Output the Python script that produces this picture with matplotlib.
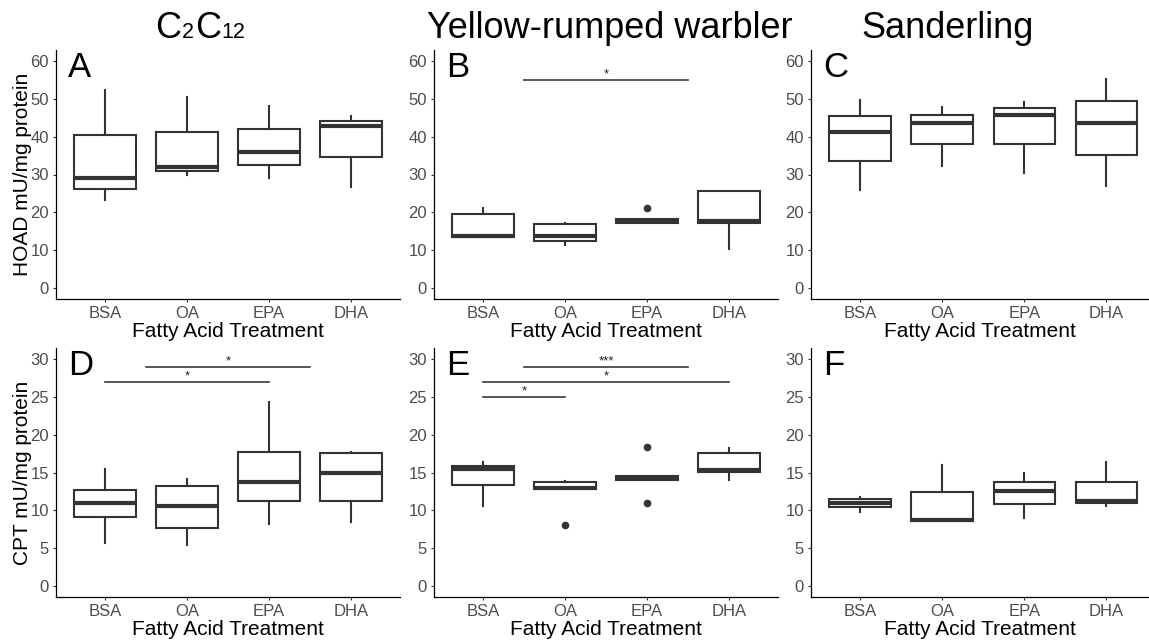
import matplotlib
matplotlib.use("Agg")
import matplotlib.pyplot as plt
from matplotlib.text import Annotation

plt.rcParams['font.family'] = ['Liberation Sans', 'DejaVu Sans']

categories = ["BSA", "OA", "EPA", "DHA"]
# first title is written as pieces: (text, is_subscript)
title1_pieces = [("C", False), ("2", True), ("C", False), ("12", True)]
col_titles = ["Yellow-rumped warbler", "Sanderling"]
row_ylabels = ["HOAD mU/mg protein", "CPT mU/mg protein"]
panel_letters = ["A", "B", "C", "D", "E", "F"]
xlabel = "Fatty Acid Treatment"
yticks_top = [0, 10, 20, 30, 40, 50, 60]
yticks_bottom = [0, 5, 10, 15, 20, 25, 30]

# box statistics per panel: whisker low, Q1, median, Q3, whisker high
A_whislo = [23.3, 29.9, 29.2, 26.6]
A_q1     = [26.1, 30.8, 32.4, 34.7]
A_med    = [29.2, 31.9, 35.9, 42.9]
A_q3     = [40.6, 41.3, 42.0, 44.1]
A_whishi = [52.3, 50.6, 48.2, 45.5]
A_fliers = [[], [], [], []]

B_whislo = [13.4, 11.4, 17.2, 10.2]
B_q1     = [13.4, 12.5, 17.2, 17.2]
B_med    = [13.8, 13.8, 17.7, 17.7]
B_q3     = [19.6, 16.8, 18.2, 25.6]
B_whishi = [21.1, 17.1, 18.2, 25.6]
B_fliers = [[], [], [21.1], []]

C_whislo = [25.9, 32.3, 30.3, 27.0]
C_q1     = [33.5, 38.0, 38.0, 35.3]
C_med    = [41.2, 43.7, 45.8, 43.7]
C_q3     = [45.5, 45.7, 47.7, 49.5]
C_whishi = [49.7, 47.9, 49.3, 55.4]
C_fliers = [[], [], [], []]

D_whislo = [5.6, 5.4, 8.2, 8.4]
D_q1     = [9.1, 7.7, 11.2, 11.2]
D_med    = [11.0, 10.6, 13.8, 14.9]
D_q3     = [12.7, 13.2, 17.7, 17.6]
D_whishi = [15.5, 14.2, 24.4, 17.7]
D_fliers = [[], [], [], []]

E_whislo = [10.6, 12.8, 14.0, 14.0]
E_q1     = [13.4, 12.8, 14.0, 15.1]
E_med    = [15.4, 13.0, 14.3, 15.3]
E_q3     = [15.8, 13.7, 14.6, 17.6]
E_whishi = [16.4, 13.9, 14.6, 18.3]
E_fliers = [[], [8.0], [18.35, 10.9], []]

F_whislo = [9.8, 8.6, 9.0, 10.6]
F_q1     = [10.4, 8.6, 10.8, 10.9]
F_med    = [11.0, 8.7, 12.6, 11.2]
F_q3     = [11.5, 12.4, 13.8, 13.8]
F_whishi = [11.8, 16.0, 14.9, 16.4]
F_fliers = [[], [], [], []]

# significance brackets: (x start, x end, y, label)
B_sig = [(1.5, 3.5, 55, "*")]
D_sig = [(1.5, 3.5, 29, "*"), (1.0, 3.0, 27, "*")]
E_sig = [(1.5, 3.5, 29, "***"), (1.0, 4.0, 27, "*"), (1.0, 2.0, 25, "*")]

panels = [
    (A_whislo, A_q1, A_med, A_q3, A_whishi, A_fliers, []),
    (B_whislo, B_q1, B_med, B_q3, B_whishi, B_fliers, B_sig),
    (C_whislo, C_q1, C_med, C_q3, C_whishi, C_fliers, []),
    (D_whislo, D_q1, D_med, D_q3, D_whishi, D_fliers, D_sig),
    (E_whislo, E_q1, E_med, E_q3, E_whishi, E_fliers, E_sig),
    (F_whislo, F_q1, F_med, F_q3, F_whishi, F_fliers, []),
]

W, H = 1149, 640
fig = plt.figure(figsize=(W / 100, H / 100), dpi=100)

col_left = [56, 434, 811]
col_right = [400, 778, 1149]
row_top = [50, 348]
row_bot = [299, 597]
col_xmax = [4.6, 4.6, 4.52]

dark = "#333333"
for i, (wl, q1, md, q3, wh, fl, sig) in enumerate(panels):
    r, c = divmod(i, 3)
    ax = fig.add_axes([col_left[c] / W, 1 - row_bot[r] / H,
                       (col_right[c] - col_left[c]) / W, (row_bot[r] - row_top[r]) / H])
    stats = []
    for k, name in enumerate(categories):
        stats.append(dict(label=name, whislo=wl[k], q1=q1[k], med=md[k],
                          q3=q3[k], whishi=wh[k], fliers=fl[k]))
    ax.bxp(stats, positions=[1, 2, 3, 4], widths=0.75, showcaps=False,
           patch_artist=True,
           boxprops=dict(facecolor="white", edgecolor=dark, linewidth=1.5),
           whiskerprops=dict(color=dark, linewidth=1.5),
           medianprops=dict(color=dark, linewidth=3.0, solid_capstyle="butt"),
           flierprops=dict(marker="o", markerfacecolor=dark, markeredgecolor=dark,
                           markersize=4.5, linestyle="none"))
    ax.set_xlim(0.4, col_xmax[c])
    if r == 0:
        ax.set_ylim(-3, 63)
        ax.set_yticks(yticks_top)
        ystar = 0.7
    else:
        ax.set_ylim(-1.5, 31.5)
        ax.set_yticks(yticks_bottom)
        ystar = 0.35
    ax.set_xticks([1, 2, 3, 4])
    ax.set_xticklabels(categories)
    for s in ["top", "right"]:
        ax.spines[s].set_visible(False)
    for s in ["left", "bottom"]:
        ax.spines[s].set_color("black")
        ax.spines[s].set_linewidth(0.9)
    ax.tick_params(axis="both", length=2.5, width=0.8, color=dark,
                   labelsize=12, labelcolor="#4D4D4D", pad=2.5)
    for (x0, x1, y, lab) in sig:
        ax.plot([x0, x1], [y, y], color="#3a3a3a", linewidth=1.2)
        ax.text((x0 + x1) / 2, y + ystar, lab, ha="center", va="baseline",
                fontsize=9.5, color="#222222")
    ax.text(0.035, 0.89, panel_letters[i], transform=ax.transAxes,
            fontsize=25, ha="left", va="baseline", color="black")
    ax.annotate(xlabel, xy=(0.5, 0), xycoords="axes fraction",
                xytext=(0, -38 * 0.72), textcoords="offset points",
                ha="center", va="baseline", fontsize=15, color="black")

# column titles
base_y = 1 - 38 / H
prev = fig.text(155 / W, base_y, title1_pieces[0][0], ha="left", va="baseline",
                fontsize=26)
for txt, sub in title1_pieces[1:]:
    fs = 15.5 if sub else 26
    prev = fig.add_artist(Annotation(txt, xy=(1, base_y),
                                     xycoords=(prev, "figure fraction"),
                                     xytext=(0.6, 0), textcoords="offset points",
                                     ha="left", va="baseline", fontsize=fs))

title_x = [610, 948]
for t, x in zip(col_titles, title_x):
    fig.text(x / W, base_y, t, ha="center", va="baseline", fontsize=26)

# row y labels
for r, lab in enumerate(row_ylabels):
    yc = (row_top[r] + row_bot[r]) / 2
    fig.text(23 / W, 1 - yc / H, lab, rotation=90, ha="center", va="center",
             fontsize=15)

fig.savefig("out.png", dpi=100, facecolor="white")
